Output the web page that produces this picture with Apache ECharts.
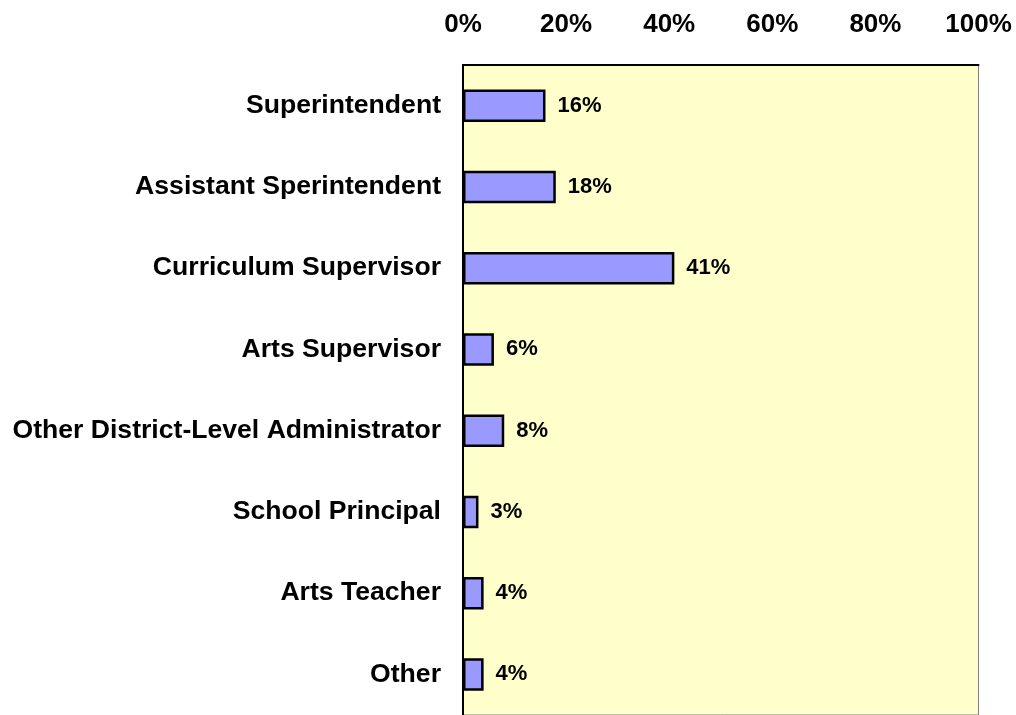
<!DOCTYPE html>
<html>
<head>
<meta charset="utf-8">
<script src="https://cdn.jsdelivr.net/npm/echarts@6/dist/echarts.min.js"></script>
<style>
html,body{margin:0;padding:0;background:#ffffff;}
#chart{width:1016px;height:715px;}
</style>
</head>
<body>
<div id="chart"></div>
<script>
var categories = [
  "Superintendent",
  "Assistant Sperintendent",
  "Curriculum Supervisor",
  "Arts Supervisor",
  "Other District-Level Administrator",
  "School Principal",
  "Arts Teacher",
  "Other"
];
var values = [16, 18, 41, 6, 8, 3, 4, 4];
var tickMin = 0;
var tickMax = 100;
var tickStep = 20;

var FONT = 'Arial';
var chart = echarts.init(document.getElementById('chart'), null, {renderer: 'canvas'});
chart.setOption({
  animation: false,
  backgroundColor: '#ffffff',
  grid: {
    left: 463,
    right: 37.5,
    top: 65,
    bottom: -4,
    show: true,
    backgroundColor: '#FFFFCC',
    borderColor: '#808080',
    borderWidth: 1,
    containLabel: false
  },
  xAxis: {
    type: 'value',
    position: 'top',
    min: tickMin,
    max: tickMax,
    interval: tickStep,
    axisLine: {show: true, lineStyle: {color: '#000000', width: 2}},
    axisTick: {show: false},
    splitLine: {show: false},
    axisLabel: {
      formatter: '{value}%',
      fontFamily: FONT,
      fontSize: 26,
      fontWeight: 'bold',
      color: '#000000',
      margin: 27
    }
  },
  yAxis: {
    type: 'category',
    data: categories,
    inverse: true,
    axisLine: {show: true, lineStyle: {color: '#000000', width: 2}},
    axisTick: {show: false},
    splitLine: {show: false},
    axisLabel: {
      fontFamily: FONT,
      fontSize: 26.6,
      fontWeight: 'bold',
      color: '#000000',
      margin: 22
    }
  },
  series: [{
    type: 'bar',
    data: values,
    barWidth: '40%',
    itemStyle: {color: '#9999FF', borderColor: '#000000', borderWidth: 2.5},
    label: {
      show: true,
      position: 'right',
      distance: 12,
      formatter: '{c}%',
      fontFamily: FONT,
      fontSize: 22,
      fontWeight: 'bold',
      color: '#000000'
    }
  }]
});
</script>
</body>
</html>
